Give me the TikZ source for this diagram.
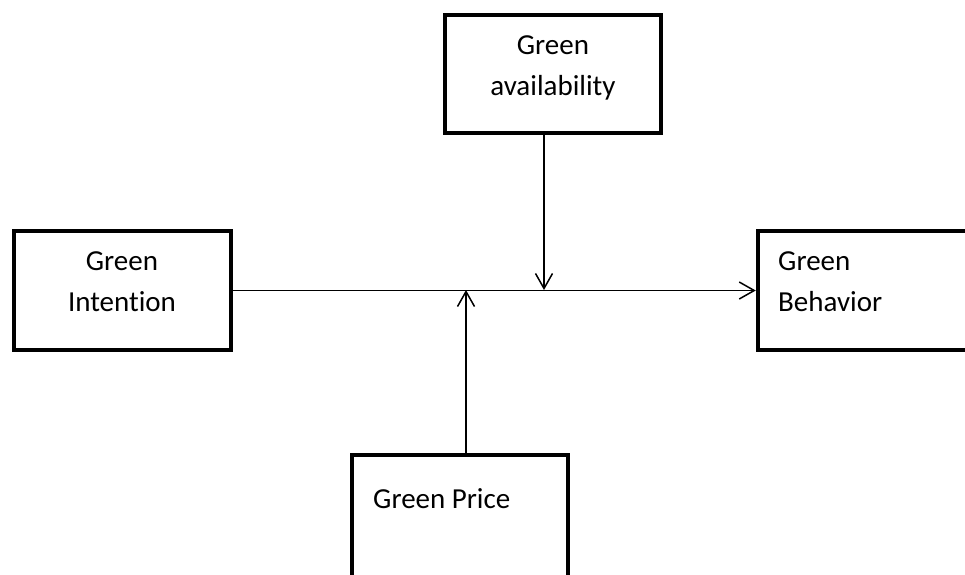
\documentclass[tikz,border=0pt]{standalone}
\usepackage{fontspec}
\setmainfont[Ligatures=NoCommon]{Carlito}
\usetikzlibrary{arrows.meta}
\begin{document}
\begin{tikzpicture}[x=1pt,y=-1pt,
  box/.style={draw=black,line width=4.5pt,rectangle,inner sep=0pt,minimum width=#1},
  lbl/.style={anchor=base,inner sep=0pt,font=\fontsize{29}{40}\selectfont},
  lbll/.style={anchor=base west,inner sep=0pt,font=\fontsize{29}{40}\selectfont},
  conn/.style={line width=1.5pt,-{Straight Barb[length=15pt,width=17pt,line width=1.5pt]}}]
\useasboundingbox (0,0) rectangle (965,574);
\clip (0,0) rectangle (965,574);
% boxes (centres of strokes)
\node[box=216pt,minimum height=118pt] (av) at (553,74) {};
\node[box=217pt,minimum height=119pt] (int) at (122.5,290.5) {};
\node[box=240pt,minimum height=119pt] (beh) at (878,290.5) {};
\node[box=216pt,minimum height=160pt] (pr) at (460,535) {};
% texts
\node[lbl] (avt1) at (553,54) {Green};
\node[lbl] (avt2) at (553,95) {availability};
\node[lbl] (intt1) at (122,270) {Green};
\node[lbl] (intt2) at (122,311) {Intention};
\node[lbll] (beht1) at (778,270) {Green};
\node[lbll] (beht2) at (778,311) {Behavior};
\node[lbll] (prt) at (373,508) {Green Price};
% junctions
\coordinate (j1) at (544,290);
\coordinate (j2) at (466,290);
% connectors
\draw[conn] (int.east) -- (beh.west);
\draw[conn] (av.south -| j1) -- (j1);
\draw[conn] (pr.north -| j2) -- (j2);
\end{tikzpicture}
\end{document}
